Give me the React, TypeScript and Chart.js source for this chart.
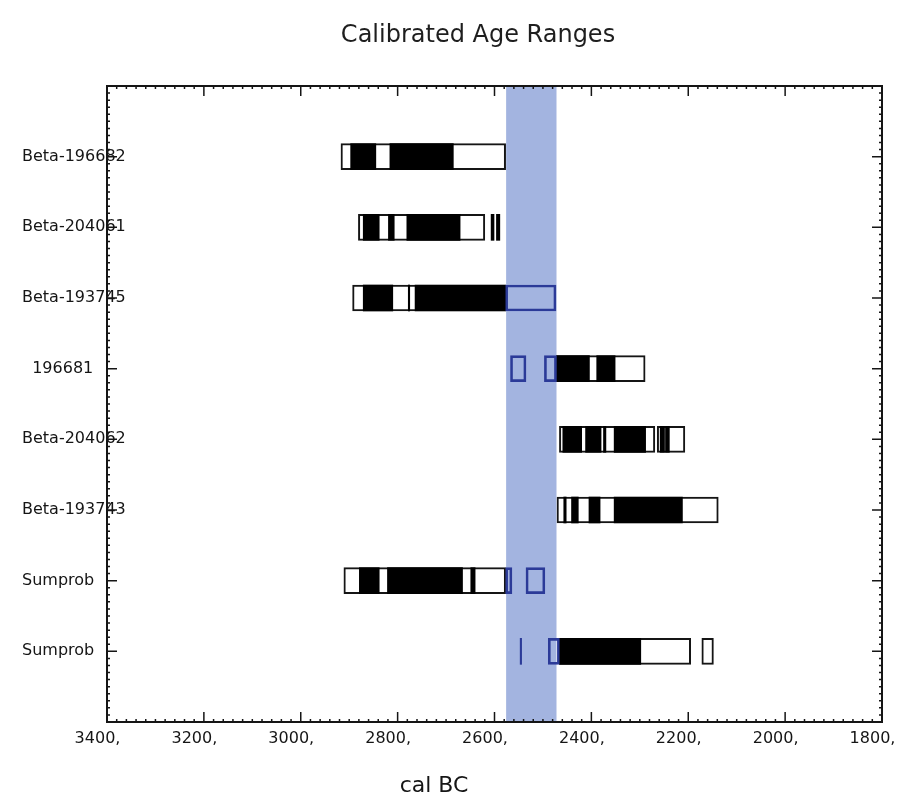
import React, { useEffect, useRef } from 'react';
import { Chart, registerables } from 'chart.js';

Chart.register(...registerables);

const TITLE = 'Calibrated Age Ranges';
const X_TITLE = 'cal BC';
const ROW_LABELS = ['Beta-196682', 'Beta-204061', 'Beta-193745', '  196681', 'Beta-204062', 'Beta-193743', 'Sumprob', 'Sumprob'];
const X_TICKS = [3400, 3200, 3000, 2800, 2600, 2400, 2200, 2000, 1800];
const X_MIN = 1800;
const X_MAX = 3400;

// highlighted interval (cal BC)
const BAND = [2576, 2472];

// outlined (white) probability ranges per row, cal BC
const BOXES: number[][][] = [
  [[2917, 2577]],
  [[2881, 2620]],
  [[2893, 2577]],
  [[2472, 2289]],
  [[2466, 2269], [2264, 2207]],
  [[2471, 2138]],
  [[2911, 2577]],
  [[2466, 2195], [2172, 2148]],
];

// filled (black) ranges per row
const FILLED: number[][][] = [
  [[2897, 2845], [2816, 2685]],
  [[2871, 2838], [2819, 2807], [2781, 2671], [2607, 2601], [2596, 2589]],
  [[2871, 2810], [2778, 2775], [2764, 2577]],
  [[2472, 2404], [2389, 2351]],
  [[2459, 2420], [2412, 2380], [2375, 2370], [2353, 2288], [2258, 2249], [2247, 2239]],
  [[2457, 2452], [2441, 2427], [2405, 2382], [2353, 2212]],
  [[2879, 2838], [2821, 2666], [2649, 2640]],
  [[2466, 2298]],
];

// ranges inside the highlighted interval (blue outline)
const BAND_BOXES: number[][][] = [
  [],
  [],
  [[2577, 2473]],
  [[2567, 2535], [2497, 2472]],
  [],
  [],
  [[2577, 2564], [2535, 2496]],
  [[2489, 2466]],
];

// filled ranges inside the highlighted interval (blue)
const BAND_FILLED: number[][][] = [[], [], [], [], [], [], [], [[2547, 2544]]];

const FONT = 'DejaVu Sans';
const INK = '#151515';
const NAVY = '#2b3a98';
const BAND_COLOR = '#a3b4e0';

function layer(rows: number[][][], style: any, order: number) {
  const n = Math.max(0, ...rows.map((r) => r.length));
  const out: any[] = [];
  for (let k = 0; k < n; k++) {
    out.push({
      data: [null, ...rows.map((r) => (r[k] ? r[k] : null)), null],
      grouped: false,
      order,
      barThickness: 26,
      borderSkipped: false,
      ...style,
    });
  }
  return out;
}

const decorPlugin = {
  id: 'decor',
  beforeDatasetsDraw(chart: any) {
    const { ctx, chartArea: a, scales } = chart;
    const x1 = scales.x.getPixelForValue(BAND[0]);
    const x2 = scales.x.getPixelForValue(BAND[1]);
    ctx.save();
    ctx.fillStyle = BAND_COLOR;
    ctx.fillRect(Math.min(x1, x2), a.top, Math.abs(x2 - x1), a.bottom - a.top);
    ctx.restore();
  },
  afterDatasetsDraw(chart: any) {
    const { ctx, chartArea: a, scales } = chart;
    const xs = scales.x;
    const ys = scales.y;
    ctx.save();
    ctx.strokeStyle = INK;
    ctx.lineWidth = 1.5;
    ctx.beginPath();
    const steps = (X_MAX - X_MIN) / 20;
    for (let k = 0; k <= steps; k++) {
      const v = X_MIN + k * 20;
      const px = xs.getPixelForValue(v);
      const len = k % 10 === 0 ? 10 : 3;
      ctx.moveTo(px, a.bottom);
      ctx.lineTo(px, a.bottom - len);
      ctx.moveTo(px, a.top);
      ctx.lineTo(px, a.top + len);
    }
    const rowsMax = ROW_LABELS.length + 1;
    for (let i = 0; i <= rowsMax * 10; i++) {
      const py = ys.getPixelForValue(i / 10);
      const len = i % 10 === 0 ? 10 : 3;
      ctx.moveTo(a.left, py);
      ctx.lineTo(a.left + len, py);
      ctx.moveTo(a.right, py);
      ctx.lineTo(a.right - len, py);
    }
    ctx.stroke();
    ctx.lineWidth = 2;
    ctx.strokeRect(a.left, a.top, a.right - a.left, a.bottom - a.top);
    ctx.fillStyle = INK;
    ctx.font = `22px "${FONT}"`;
    ctx.textAlign = 'center';
    ctx.textBaseline = 'middle';
    ctx.fillText(X_TITLE, a.left + 327, 786);
    ctx.restore();
  },
};

export default function App() {
  const ref = useRef<HTMLCanvasElement | null>(null);
  useEffect(() => {
    if (!ref.current) return;
    const labels = ['', ...ROW_LABELS, ''];
    const datasets = [
      ...layer(BOXES, { backgroundColor: '#ffffff', borderColor: INK, borderWidth: 2 }, 4),
      ...layer(FILLED, { backgroundColor: '#000000', borderWidth: 0 }, 3),
      ...layer(BAND_BOXES, { backgroundColor: 'rgba(0,0,0,0)', borderColor: NAVY, borderWidth: 2 }, 2),
      ...layer(BAND_FILLED, { backgroundColor: NAVY, borderWidth: 0 }, 1),
    ];
    const chart = new Chart(ref.current, {
      type: 'bar',
      data: { labels, datasets },
      plugins: [decorPlugin],
      options: {
        animation: false,
        responsive: true,
        maintainAspectRatio: false,
        indexAxis: 'y',
        layout: { padding: { left: 74, right: 19, top: 0, bottom: 0 } },
        plugins: {
          legend: { display: false },
          tooltip: { enabled: false },
          title: {
            display: true,
            text: TITLE,
            color: '#1e1e1e',
            font: { family: FONT, size: 24, weight: 'normal' },
            padding: { top: 21.6, bottom: 35.6 },
          },
        },
        scales: {
          x: {
            type: 'linear',
            position: 'bottom',
            reverse: true,
            min: X_MIN,
            max: X_MAX,
            grid: { display: false, drawTicks: false },
            border: { display: false },
            afterBuildTicks: (s: any) => {
              s.ticks = X_TICKS.map((v) => ({ value: v }));
            },
            afterFit: (s: any) => {
              s.height = 72;
              s.paddingLeft = 0;
              s.paddingRight = 0;
            },
            ticks: {
              padding: 7,
              labelOffset: -9.5,
              color: INK,
              font: { family: FONT, size: 16 },
              maxRotation: 0,
              autoSkip: false,
              callback: (v: any) => `${v},`,
            },
          },
          y: {
            type: 'category',
            offset: false,
            grid: { display: false, drawTicks: false },
            border: { display: false },
            afterFit: (s: any) => {
              s.width = 33;
              s.paddingTop = 0;
              s.paddingBottom = 0;
            },
            ticks: {
              mirror: true,
              padding: -85,
              autoSkip: false,
              color: INK,
              font: { family: FONT, size: 16 },
            },
          },
        },
      } as any,
    });
    return () => chart.destroy();
  }, []);
  return (
    <div style={{ position: 'fixed', left: 0, top: 0, width: 901, height: 794, background: '#ffffff' }}>
      <canvas ref={ref} />
    </div>
  );
}
